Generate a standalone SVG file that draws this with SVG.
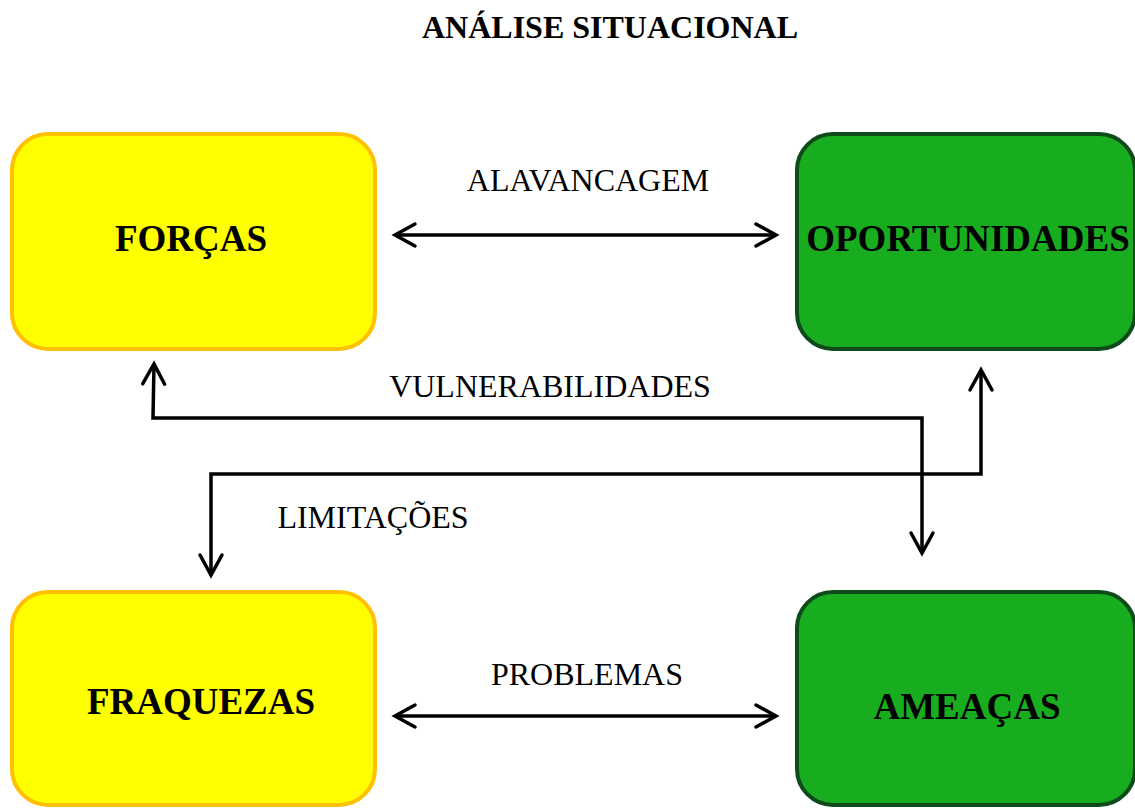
<svg xmlns="http://www.w3.org/2000/svg" width="1135" height="808" viewBox="0 0 1135 808">
  <defs>
    <style>
      .yellow { fill: #FFFF00; stroke: #FFC000; stroke-width: 4; }
      .green { fill: #18AD1F; stroke: #0F4A1B; stroke-width: 4; }
      .node-label { font-family: "Liberation Serif", "Times New Roman", serif; font-weight: bold; font-size: 37px; fill: #000; text-anchor: middle; }
      .title { font-family: "Liberation Serif", "Times New Roman", serif; font-weight: bold; font-size: 32px; fill: #000; text-anchor: middle; }
      .edge-label { font-family: "Liberation Serif", "Times New Roman", serif; font-size: 32px; fill: #000; text-anchor: middle; }
      .wire { fill: none; stroke: #000; stroke-width: 3.5; stroke-linejoin: miter; }
    </style>
    <marker id="chevron" viewBox="-24 -14 28 28" markerWidth="28" markerHeight="28" refX="0" refY="0" orient="auto-start-reverse" markerUnits="userSpaceOnUse">
      <path d="M -20,-11 L 0,0 L -20,11" fill="none" stroke="#000" stroke-width="3.5" stroke-linecap="round" stroke-linejoin="miter"/>
    </marker>
  </defs>

  <rect width="1135" height="808" fill="#FFFFFF"/>

  <text class="title" x="610" y="38">ANÁLISE SITUACIONAL</text>

  <g id="forcas">
    <rect class="yellow" x="12" y="134" width="363" height="215" rx="36" ry="36"/>
    <text class="node-label" x="191" y="251">FORÇAS</text>
  </g>

  <g id="oportunidades">
    <rect class="green" x="797" y="134" width="338" height="215" rx="36" ry="36"/>
    <text class="node-label" x="968" y="251">OPORTUNIDADES</text>
  </g>

  <g id="fraquezas">
    <rect class="yellow" x="12" y="592" width="363" height="213" rx="36" ry="36"/>
    <text class="node-label" x="201" y="714">FRAQUEZAS</text>
  </g>

  <g id="ameacas">
    <rect class="green" x="797" y="592" width="338" height="213" rx="36" ry="36"/>
    <text class="node-label" x="967" y="719">AMEAÇAS</text>
  </g>

  <g id="connectors">
    <!-- strengths / opportunities -->
    <line class="wire" x1="395" y1="235" x2="776" y2="235" marker-start="url(#chevron)" marker-end="url(#chevron)"/>
    <text class="edge-label" x="588" y="191">ALAVANCAGEM</text>

    <!-- vulnerabilities: threats back to strengths -->
    <polyline class="wire" points="922,553 922,418 153,418 154,364" marker-start="url(#chevron)" marker-end="url(#chevron)"/>
    <text class="edge-label" x="550" y="397">VULNERABILIDADES</text>

    <!-- limitations: opportunities down to weaknesses -->
    <polyline class="wire" points="981,370 981,474 211,474 211,575" marker-start="url(#chevron)" marker-end="url(#chevron)"/>
    <text class="edge-label" x="373" y="528">LIMITAÇÕES</text>

    <!-- weaknesses / threats -->
    <line class="wire" x1="395" y1="716" x2="776" y2="716" marker-start="url(#chevron)" marker-end="url(#chevron)"/>
    <text class="edge-label" x="587" y="685">PROBLEMAS</text>
  </g>
</svg>
